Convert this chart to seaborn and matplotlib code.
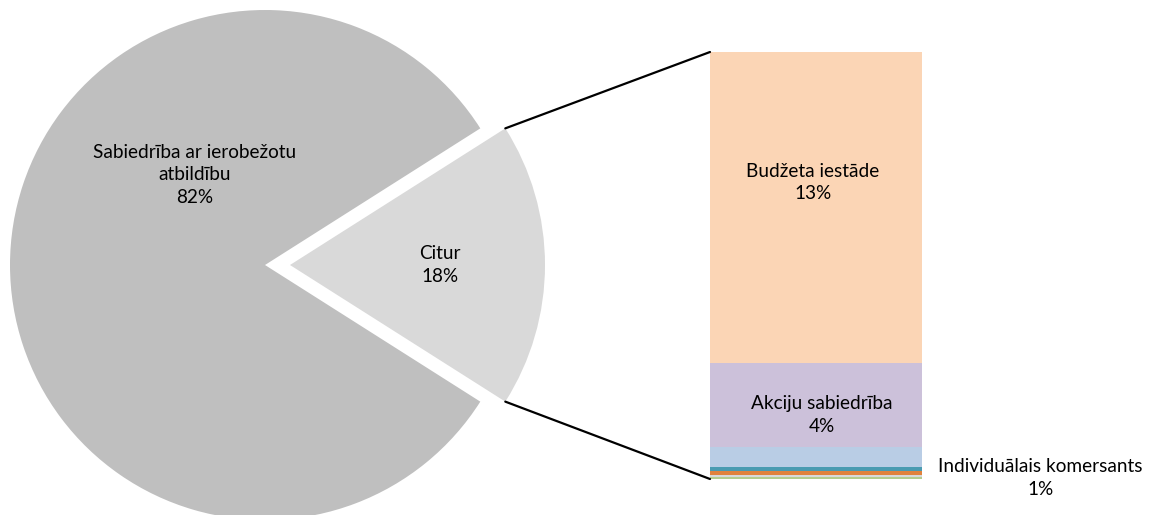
import matplotlib
matplotlib.use("Agg")
import matplotlib.pyplot as plt
import seaborn as sns
import numpy as np
from matplotlib.patches import ConnectionPatch

# Pie data (share of total, %)
pie_labels = ["Citur", "Sabiedrība ar ierobežotu\natbildību"]
pie_values = [18, 82]
pie_colors = ["#D9D9D9", "#BFBFBF"]

# Breakdown of "Citur" (%), top to bottom of the stacked bar
bar_labels = ["Budžeta iestāde", "Akciju sabiedrība", "Individuālais komersants",
              "Cits 1", "Cits 2", "Cits 3", "Cits 4"]
bar_values = [13.1, 3.55, 0.85, 0.18, 0.17, 0.07, 0.08]
bar_colors = ["#FBD5B5", "#CCC1DA", "#B9CDE5", "#4A9BB1", "#E0823D", "#D9D9D9", "#B5CD8E"]

sns.set_style("white")
plt.rcParams["font.family"] = ["Lato", "DejaVu Sans"]

W, H = 1150, 515
fig = plt.figure(figsize=(W / 100, H / 100), dpi=100)

# pie axes, 255 px per unit, centre at (265, 265) from top-left
R = 255.0
ax1 = fig.add_axes([0, 0, 560 / W, 1])
ax1.pie(pie_values, colors=pie_colors, startangle=-pie_values[0] * 3.6 / 2,
        explode=[25 / R, 0], radius=1, wedgeprops=dict(linewidth=0))
ax1.set_xlim(-265 / R, (560 - 265) / R)
ax1.set_ylim(-250 / R, 265 / R)
ax1.set_aspect("auto")
ax1.axis("off")

txt = dict(ha="center", va="center", fontsize=13.7, color="black", linespacing=1.42)
ax1.text(-0.275, 0.353, f"{pie_labels[1]}\n{pie_values[1]}%", **txt)
ax1.text(0.686, 0.0, f"{pie_labels[0]}\n{pie_values[0]}%", **txt)

# stacked bar axes
ax2 = fig.add_axes([710 / W, 36 / H, 212 / W, 427 / H])
bottom = sum(bar_values)
tops = []
for lab, v, c in zip(bar_labels, bar_values, bar_colors):
    bottom -= v
    sns.barplot(x=["Citur"], y=[v], bottom=bottom, width=1, color=c,
                linewidth=0, saturation=1, ax=ax2)
    tops.append((bottom, v))
ax2.set_xlim(-0.5, 0.5)
ax2.set_ylim(0, sum(bar_values))
ax2.axis("off")

b, v = tops[0]
ax2.text(-0.014, b + v * 0.58, f"{bar_labels[0]}\n{v:.0f}%", **txt)
b, v = tops[1]
ax2.text(0.028, b + v * 0.38, f"{bar_labels[1]}\n{v:.0f}%", **txt)
b, v = tops[2]
ax2.text(1.057, 0.05, f"{bar_labels[2]}\n{v:.0f}%", clip_on=False, **txt)

# connector lines from the exploded slice to the bar
half = np.deg2rad(pie_values[0] * 3.6 / 2)
cx = 25 / R
for sgn, ybar in [(1, sum(bar_values)), (-1, 0)]:
    p = (cx + np.cos(half), sgn * np.sin(half))
    con = ConnectionPatch(xyA=p, coordsA=ax1.transData, xyB=(-0.5, ybar),
                          coordsB=ax2.transData, color="black", linewidth=1.6)
    fig.add_artist(con)

fig.savefig("out.png", dpi=100)
